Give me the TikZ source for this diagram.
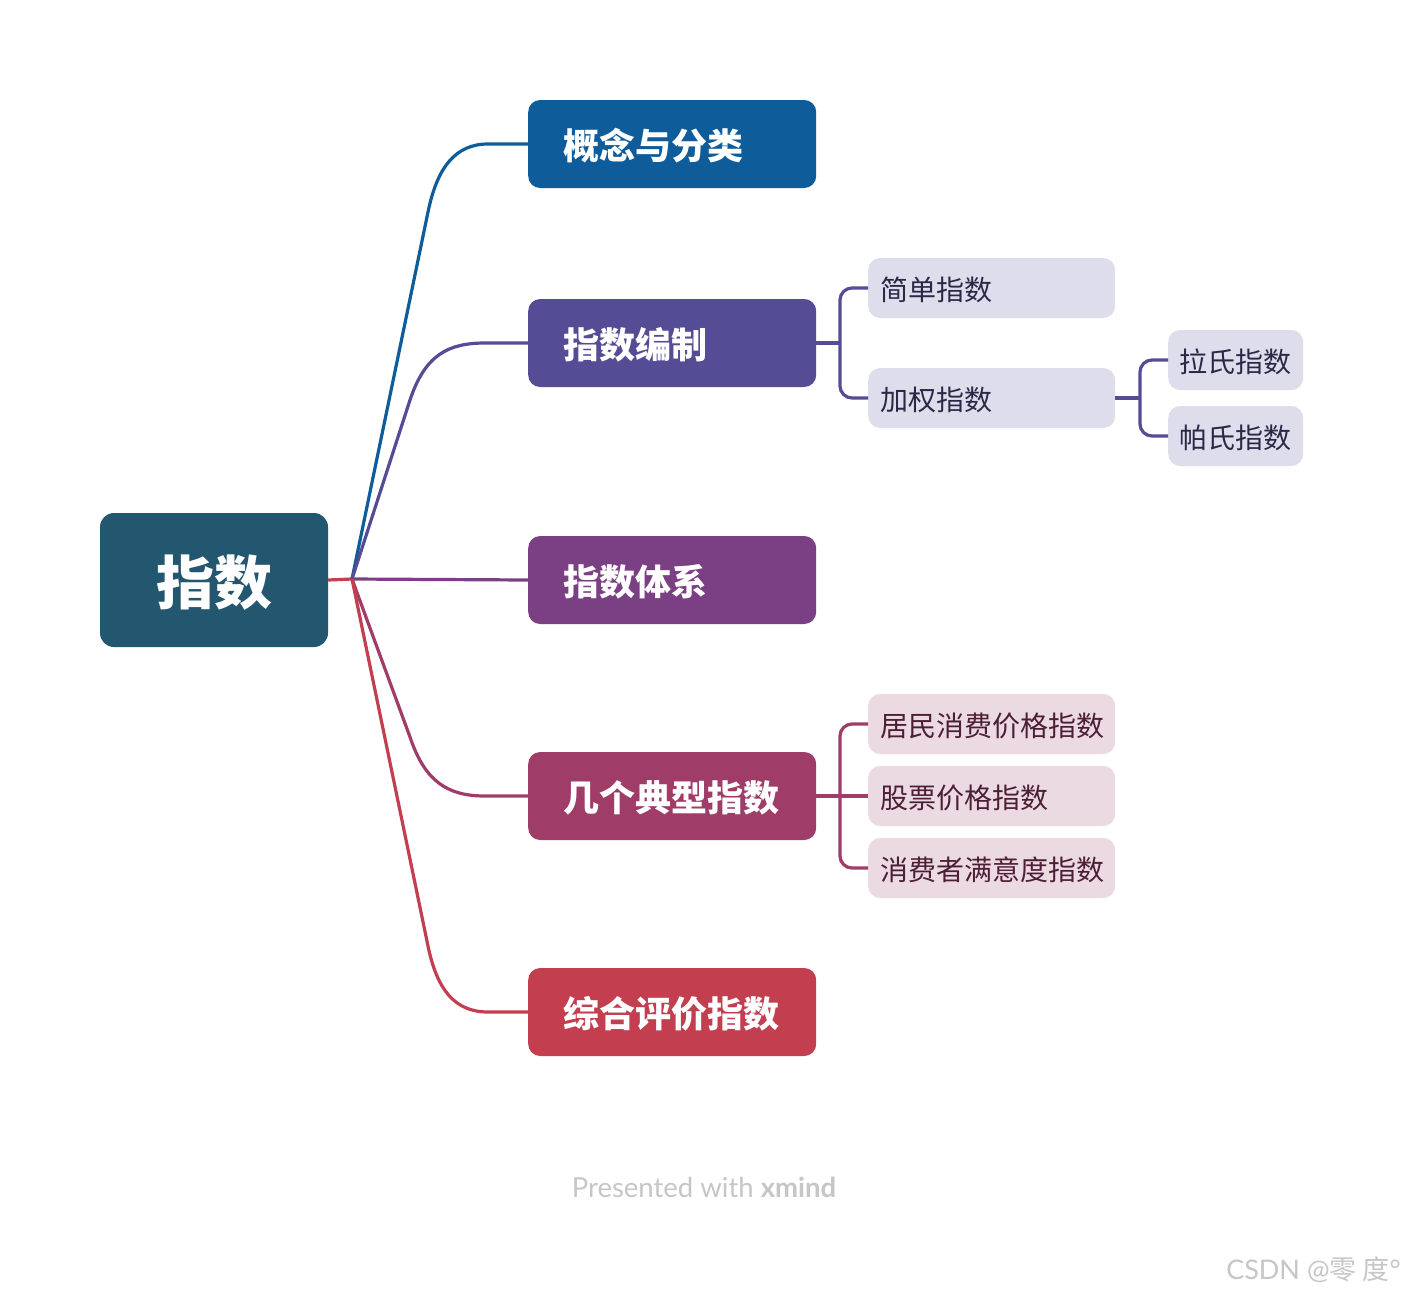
\documentclass[tikz,border=0pt]{standalone}
\usepackage{fontspec}
\setmainfont{Lato}
\newfontfamily\cjk{Noto Sans CJK SC}
\definecolor{rootc}{HTML}{23566F}
\definecolor{cA}{HTML}{0E5C99}
\definecolor{cB}{HTML}{554C96}
\definecolor{cC}{HTML}{7B3F83}
\definecolor{cD}{HTML}{A03C68}
\definecolor{cE}{HTML}{C33F4F}
\definecolor{lavbg}{HTML}{DEDDEB}
\definecolor{lavtx}{HTML}{2B2847}
\definecolor{pinkbg}{HTML}{ECDAE2}
\definecolor{pinktx}{HTML}{4D1F35}
\definecolor{wm}{HTML}{C6C6C6}
\tikzset{
  mainbox/.style={rounded corners=12pt, inner xsep=35pt, inner ysep=0pt, text width=218pt, text height=31.4pt, text depth=0pt, minimum height=88pt, align=left, anchor=west, text=white, font=\cjk\bfseries\fontsize{36}{40}\selectfont},
  subbox/.style={rounded corners=12pt, inner xsep=12pt, inner ysep=0pt, text width=223pt, text height=25.2pt, text depth=0pt, minimum height=60pt, align=left, anchor=west, font=\cjk\fontsize{28}{32}\selectfont},
  leafbox/.style={subbox, inner xsep=11pt, text width=113pt},
  conn/.style={line width=3.2pt},
}
\begin{document}
\begin{tikzpicture}[x=1pt,y=-1pt]
\useasboundingbox[fill=white] (0,0) rectangle (1404,1296);
% root
\node[fill=rootc, rounded corners=14pt, minimum width=228pt, minimum height=134pt, inner sep=0pt, text height=48pt, text depth=0pt, text=white, font=\cjk\bfseries\fontsize{58}{62}\selectfont] (root) at (214,580) {指数};
\coordinate (hub) at (352,579);
% main nodes
\node[mainbox, fill=cA] (m1) at (528,144) {概念与分类};
\node[mainbox, fill=cB] (m2) at (528,343) {指数编制};
\node[mainbox, fill=cC] (m3) at (528,580) {指数体系};
\node[mainbox, fill=cD] (m4) at (528,796) {几个典型指数};
\node[mainbox, fill=cE] (m5) at (528,1012) {综合评价指数};
% sub nodes
\node[subbox, fill=lavbg, text=lavtx] (s1) at (868,288) {简单指数};
\node[subbox, fill=lavbg, text=lavtx] (s2) at (868,398) {加权指数};
\node[leafbox, fill=lavbg, text=lavtx] (l1) at (1168,360) {拉氏指数};
\node[leafbox, fill=lavbg, text=lavtx] (l2) at (1168,436) {帕氏指数};
\node[subbox, fill=pinkbg, text=pinktx] (p1) at (868,724) {居民消费价格指数};
\node[subbox, fill=pinkbg, text=pinktx] (p2) at (868,796) {股票价格指数};
\node[subbox, fill=pinkbg, text=pinktx] (p3) at (868,868) {消费者满意度指数};
% connectors
\draw[conn, cE] (root.east) -- (hub);
\draw[conn, cA] (hub) -- (428,212) .. controls (437,168) and (455,144) .. (488,144) -- (m1.west);
\draw[conn, cB] (hub) -- (410,400) .. controls (425,355) and (448,343) .. (485,343) -- (m2.west);
\draw[conn, cC] (hub) -- (m3.west);
\draw[conn, cD] (hub) -- (410,737) .. controls (425,782) and (448,796) .. (485,796) -- (m4.west);
\draw[conn, cE] (hub) -- (428,946) .. controls (437,990) and (455,1012) .. (488,1012) -- (m5.west);
% brackets
\draw[conn, cB] (m2.east) -- (840,343);
\draw[conn, cB, rounded corners=12pt] (s1.west) -- (840,288) -- (840,398) -- (s2.west);
\draw[conn, cB] (s2.east) -- (1140,398);
\draw[conn, cB, rounded corners=12pt] (l1.west) -- (1140,360) -- (1140,436) -- (l2.west);
\draw[conn, cD] (m4.east) -- (p2.west);
\draw[conn, cD, rounded corners=12pt] (p1.west) -- (840,724) -- (840,868) -- (p3.west);
% watermarks
\node[text=wm, font=\fontsize{27.5}{30}\selectfont, inner sep=0pt] (wm1) at (704,1187) {Presented with \textbf{xmind}};
\node[text=wm, font=\fontsize{27}{30}\selectfont, inner sep=0pt, anchor=east] (wm2) at (1401,1270) {CSDN @{\cjk 零 度}°};
\end{tikzpicture}
\end{document}
